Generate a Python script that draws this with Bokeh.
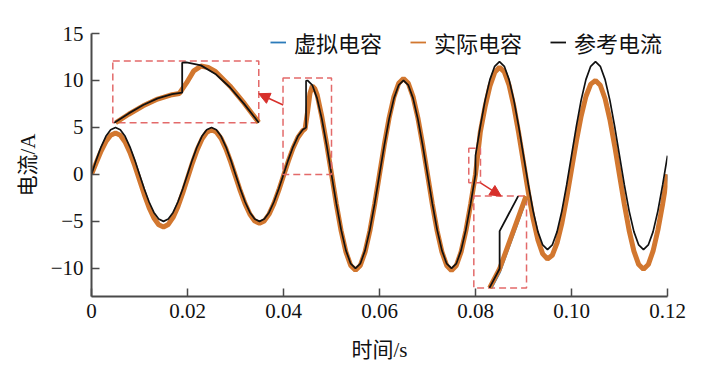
import math
import numpy as np
from bokeh.plotting import figure
from bokeh.models import (FixedTicker, Legend, LegendItem, Arrow, NormalHead,
                          Range1d, CustomJSTickFormatter)
from bokeh.embed import file_html
from bokeh.resources import INLINE

# ---------------- data ----------------
# reference current: sample times in ms (steps at 44.7 ms and 80 ms)
ref_time_ms = list(range(0, 45)) + [44.7, 44.7] + list(range(45, 81)) + [80] + list(range(81, 121))
ref_current = [
    0, 1.55, 2.94, 4.05, 4.76, 5.0, 4.76, 4.05, 2.94, 1.55,
    0, -1.55, -2.94, -4.05, -4.76, -5.0, -4.76, -4.05, -2.94, -1.55,
    0, 1.55, 2.94, 4.05, 4.76, 5.0, 4.76, 4.05, 2.94, 1.55,
    0, -1.55, -2.94, -4.05, -4.76, -5.0, -4.76, -4.05, -2.94, -1.55,
    0, 1.55, 2.94, 4.05, 4.76,
    4.99, 9.96,
    10.0, 9.51, 8.09, 5.88, 3.09, 0, -3.09, -5.88, -8.09, -9.51,
    -10.0, -9.51, -8.09, -5.88, -3.09, 0, 3.09, 5.88, 8.09, 9.51,
    10.0, 9.51, 8.09, 5.88, 3.09, 0, -3.09, -5.88, -8.09, -9.51,
    -10.0, -9.51, -8.09, -5.88, -3.09, 0,
    2.0,
    5.09, 7.88, 10.09, 11.51, 12.0, 11.51, 10.09, 7.88, 5.09, 2.0,
    -1.09, -3.88, -6.09, -7.51, -8.0, -7.51, -6.09, -3.88, -1.09, 2.0,
    5.09, 7.88, 10.09, 11.51, 12.0, 11.51, 10.09, 7.88, 5.09, 2.0,
    -1.09, -3.88, -6.09, -7.51, -8.0, -7.51, -6.09, -3.88, -1.09, 2.0,
]

# capacitor currents: sample times in ms
cap_time_ms = list(range(0, 45)) + [44.5, 45, 45.5, 46, 46.5, 47] + list(range(48, 121))
actual_cap = [
    0, 1.25, 2.49, 3.50, 4.16, 4.40, 4.16, 3.45, 2.34, 0.95,
    -0.60, -2.15, -3.54, -4.65, -5.36, -5.60, -5.33, -4.58, -3.43, -2.00,
    -0.41, 1.18, 2.61, 3.75, 4.49, 4.75, 4.52, 3.82, 2.72, 1.33,
    -0.21, -1.76, -3.14, -4.25, -4.96, -5.20, -4.95, -4.23, -3.11, -1.71,
    -0.15, 1.41, 2.81, 3.93, 4.65,
    4.85, 6.6, 8.6, 9.4, 9.15, 8.5,
    6.1, 3.2, 0.05, -3.15, -6.0, -8.25, -9.7, -10.2, -9.7, -8.25,
    -6.0, -3.15, 0.0, 3.15, 6.0, 8.25, 9.7, 10.2, 9.7, 8.25,
    6.0, 3.15, 0.0, -3.15, -6.0, -8.25, -9.7, -10.25, -9.7, -8.25,
    -6.0, -3.15, 0.0,
    4.5, 7.2, 9.4, 10.86, 11.4, 10.91, 9.49, 7.23, 4.39, 1.25,
    -1.89, -4.73, -6.99, -8.46, -9.0, -8.61, -7.29, -5.18, -2.49, 0.5,
    3.49, 6.18, 8.29, 9.61, 10.0, 9.49, 8.05, 5.83, 3.03, -0.07,
    -3.17, -5.96, -8.17, -9.6, -10.1, -9.6, -8.15, -5.92, -3.12, 0.0,
]
virtual_cap = [
    0, 1.25, 2.49, 3.50, 4.16, 4.40, 4.16, 3.45, 2.34, 0.95,
    -0.60, -2.15, -3.54, -4.65, -5.36, -5.60, -5.33, -4.58, -3.43, -2.00,
    -0.41, 1.18, 2.61, 3.75, 4.49, 4.75, 4.52, 3.82, 2.72, 1.33,
    -0.21, -1.76, -3.14, -4.25, -4.96, -5.20, -4.95, -4.23, -3.11, -1.71,
    -0.15, 1.41, 2.81, 3.93, 4.65,
    4.8, 6.45, 8.5, 9.4, 9.15, 8.5,
    6.1, 3.2, 0.05, -3.15, -6.0, -8.25, -9.7, -10.2, -9.7, -8.25,
    -6.0, -3.15, 0.0, 3.15, 6.0, 8.25, 9.7, 10.2, 9.7, 8.25,
    6.0, 3.15, 0.0, -3.15, -6.0, -8.25, -9.7, -10.25, -9.7, -8.25,
    -6.1, -3.3, -0.2,
    4.3, 7.1, 9.35, 10.86, 11.4, 10.91, 9.49, 7.23, 4.39, 1.25,
    -1.89, -4.73, -6.99, -8.46, -9.0, -8.61, -7.29, -5.18, -2.49, 0.5,
    3.49, 6.18, 8.29, 9.61, 10.0, 9.49, 8.05, 5.83, 3.03, -0.07,
    -3.17, -5.96, -8.17, -9.6, -10.1, -9.6, -8.15, -5.92, -3.12, 0.0,
]
assert len(ref_time_ms) == len(ref_current)
assert len(cap_time_ms) == len(actual_cap) == len(virtual_cap)

series_names = ["虚拟电容", "实际电容", "参考电流"]
x_ticks = [0, 0.02, 0.04, 0.06, 0.08, 0.10, 0.12]
x_tick_labels = ["0", "0.02", "0.04", "0.06", "0.08", "0.10", "0.12"]
y_ticks = [-10, -5, 0, 5, 10, 15]
y_tick_labels = ["−10", "−5", "0", "5", "10", "15"]

# ---------------- styles / annotation geometry ----------------
BLUE = "#2b7bba"
ORANGE = "#d2772f"
BLACK = "#111111"
BOX_RED = "#e36a6a"
ARROW_RED = "#d7302b"
SERIF = "Liberation Serif"
CJK = "Liberation Serif, Noto Sans CJK SC"

# zoom windows: (t0, t1, y0, y1) in data units
zoom1_src = (0.0399, 0.0500, 0.0, 10.25)
zoom1_dst = (0.00444, 0.03485, 5.50, 12.08)
zoom2_box = (0.07860, 0.08104, -0.90, 2.77)
zoom2_src = (0.079162, 0.080873, -1.02, 3.86)
zoom2_dst = (0.07965, 0.09063, -12.09, -2.31)
arrow1 = (0.03994, 7.39, 0.03485, 8.59)
arrow2 = (0.08104, -0.90, 0.08535, -2.31)

ref_t = np.array(ref_time_ms) / 1000.0
cap_t = np.array(cap_time_ms) / 1000.0


def clip_map(xs, ys, src, dst):
    """Clip polyline to src window (Liang-Barsky) and map linearly into dst box."""
    x0, x1, y0, y1 = src
    X0, X1, Y0, Y1 = dst
    ox, oy = [], []
    prev = None
    for i in range(len(xs) - 1):
        ax, ay, bx, by = xs[i], ys[i], xs[i + 1], ys[i + 1]
        dx, dy = bx - ax, by - ay
        u0, u1 = 0.0, 1.0
        ok = True
        for p_, q in ((-dx, ax - x0), (dx, x1 - ax), (-dy, ay - y0), (dy, y1 - ay)):
            if p_ == 0:
                if q < 0:
                    ok = False
                    break
            else:
                r = q / p_
                if p_ < 0:
                    if r > u1:
                        ok = False
                        break
                    u0 = max(u0, r)
                else:
                    if r < u0:
                        ok = False
                        break
                    u1 = min(u1, r)
        if not ok:
            prev = None
            continue
        sx, sy = ax + u0 * dx, ay + u0 * dy
        ex, ey = ax + u1 * dx, ay + u1 * dy
        if prev is None or abs(prev[0] - sx) > 1e-12 or abs(prev[1] - sy) > 1e-12:
            if ox:
                ox.append(math.nan)
                oy.append(math.nan)
            ox.append(sx)
            oy.append(sy)
        ox.append(ex)
        oy.append(ey)
        prev = (ex, ey)
    mx = [X0 + (v - x0) / (x1 - x0) * (X1 - X0) if not math.isnan(v) else math.nan for v in ox]
    my = [Y0 + (v - y0) / (y1 - y0) * (Y1 - Y0) if not math.isnan(v) else math.nan for v in oy]
    return np.array(mx), np.array(my)


p = figure(width=700, height=372, output_backend="svg", toolbar_location=None,
           x_range=Range1d(0, 0.12), y_range=Range1d(-13, 15),
           min_border_left=91, min_border_right=33, min_border_top=33, min_border_bottom=76)
p.outline_line_color = None
p.grid.visible = False
p.background_fill_color = "white"

# main curves
r_blue = p.line(cap_t, virtual_cap, line_color=BLUE, line_width=2.2)
r_orange = p.line(cap_t, actual_cap, line_color=ORANGE, line_width=5)
r_black = p.line(ref_t, ref_current, line_color=BLACK, line_width=1.7)

# zoom boxes
for (a, b, c, d) in (zoom1_src, zoom1_dst, zoom2_box, zoom2_dst):
    p.quad(left=[a], right=[b], bottom=[c], top=[d], fill_color=None,
           line_color=BOX_RED, line_width=1.5, line_dash="7 4")

# magnified curves
for src, dst in ((zoom1_src, zoom1_dst), (zoom2_src, zoom2_dst)):
    bx, by = clip_map(list(cap_t), virtual_cap, src, dst)
    p.line(bx, by, line_color=BLUE, line_width=2.2)
    ox, oy = clip_map(list(cap_t), actual_cap, src, dst)
    p.line(ox, oy, line_color=ORANGE, line_width=5)
    kx, ky = clip_map(list(ref_t), ref_current, src, dst)
    p.line(kx, ky, line_color=BLACK, line_width=1.8)

# arrows
for (xs, ys, xe, ye) in (arrow1, arrow2):
    p.add_layout(Arrow(end=NormalHead(size=11, fill_color=ARROW_RED, line_color=ARROW_RED),
                       x_start=xs, y_start=ys, x_end=xe, y_end=ye,
                       line_color=ARROW_RED, line_width=1.5))

# legend with thin sample lines (proxy renderers holding no visible point)
nan_pt = [math.nan]
lg_blue = p.line(nan_pt, nan_pt, line_color=BLUE, line_width=1.8)
lg_orange = p.line(nan_pt, nan_pt, line_color=ORANGE, line_width=1.8)
lg_black = p.line(nan_pt, nan_pt, line_color=BLACK, line_width=1.8)
legend = Legend(items=[LegendItem(label=series_names[0], renderers=[lg_blue]),
                       LegendItem(label=series_names[1], renderers=[lg_orange]),
                       LegendItem(label=series_names[2], renderers=[lg_black])],
                orientation="horizontal", location=(179, 238),
                border_line_color=None, background_fill_alpha=0,
                label_text_font=CJK, label_text_font_size="22px", label_text_color="#111111",
                glyph_width=16, label_standoff=8, spacing=28, padding=4, margin=0)
p.add_layout(legend)

# axes
fmt_code = """
for (let i = 0; i < tvals.length; i++) {
  if (Math.abs(tvals[i] - tick) < 1e-9) { return tlabels[i]; }
}
return '';
"""
p.xaxis.ticker = FixedTicker(ticks=x_ticks)
p.xaxis.formatter = CustomJSTickFormatter(args=dict(tvals=x_ticks, tlabels=x_tick_labels), code=fmt_code)
p.yaxis.ticker = FixedTicker(ticks=y_ticks)
p.yaxis.formatter = CustomJSTickFormatter(args=dict(tvals=y_ticks, tlabels=y_tick_labels), code=fmt_code)
p.xaxis.axis_label = "时间/s"
p.yaxis.axis_label = "电流/A"
for ax in (p.xaxis, p.yaxis):
    ax.axis_line_color = "#4a4a4a"
    ax.axis_line_width = 2
    ax.major_tick_line_color = "#4a4a4a"
    ax.major_tick_line_width = 1.5
    ax.major_tick_in = 8
    ax.major_tick_out = 0
    ax.minor_tick_line_color = None
    ax.major_label_text_font = SERIF
    ax.major_label_text_font_size = "21px"
    ax.major_label_text_color = "#111111"
    ax.axis_label_text_font = CJK
    ax.axis_label_text_font_size = "21px"
    ax.axis_label_text_font_style = "normal"
    ax.axis_label_text_color = "#111111"
p.xaxis.major_label_standoff = 7
p.yaxis.major_label_standoff = 8
p.xaxis.axis_label_standoff = 17
p.yaxis.axis_label_standoff = 8

open("out.html", "w").write(file_html(p, INLINE))
